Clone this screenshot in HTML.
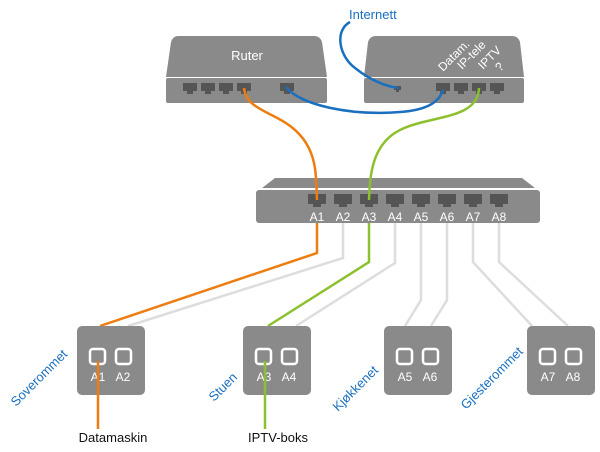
<!DOCTYPE html>
<html><head><style>body{margin:0;background:#fff}svg{display:block;font-family:"Liberation Sans",sans-serif}</style></head><body>
<svg width="600" height="452" viewBox="0 0 600 452">
<!-- router -->
<path d="M178,36 H314 Q320,36 322,42 L327,77 H166 L171,42 Q173,36 178,36Z" fill="#8a8a8a"/>
<rect x="166" y="78" width="161" height="25" rx="2" fill="#8a8a8a"/>
<text x="247" y="60" fill="#fff" font-size="13" text-anchor="middle">Ruter</text>
<g fill="#555"><path d="M183,83h14v8h-4v3h-6v-3h-4z"/><path d="M201,83h14v8h-4v3h-6v-3h-4z"/><path d="M219,83h14v8h-4v3h-6v-3h-4z"/><path d="M237,83h14v8h-4v3h-6v-3h-4z"/><path d="M280,83h14v8h-4v3h-6v-3h-4z"/></g>
<!-- modem -->
<path d="M376,36 H512 Q518,36 520,42 L524,77 H364 L368,42 Q370,36 376,36Z" fill="#8a8a8a"/>
<rect x="364" y="78" width="160" height="25" rx="2" fill="#8a8a8a"/>
<g fill="#555"><path d="M394,86h7v4h-2v2h-3v-2h-2z"/><path d="M436,83h14v8h-4v3h-6v-3h-4z"/><path d="M454,83h14v8h-4v3h-6v-3h-4z"/><path d="M472,83h14v8h-4v3h-6v-3h-4z"/><path d="M490,83h14v8h-4v3h-6v-3h-4z"/></g>
<g fill="#fff" font-size="12"><text transform="translate(443,72) rotate(-45)">Datam.</text><text transform="translate(462,70) rotate(-45)">IP-tele</text><text transform="translate(483,70) rotate(-45)">IPTV</text><text transform="translate(500,72) rotate(-45)">?</text></g>
<text x="349" y="19" fill="#1a6fbf" font-size="13">Internett</text>
<!-- switch -->
<path d="M275,178 H522 L535,188 H262Z" fill="#8a8a8a"/>
<rect x="256" y="190" width="284" height="33" rx="3" fill="#8a8a8a"/>
<g fill="#555">
<path d="M308,194h18v10h-5v3h-8v-3h-5z"/><path d="M334,194h18v10h-5v3h-8v-3h-5z"/><path d="M360,194h18v10h-5v3h-8v-3h-5z"/><path d="M386,194h18v10h-5v3h-8v-3h-5z"/><path d="M412,194h18v10h-5v3h-8v-3h-5z"/><path d="M438,194h18v10h-5v3h-8v-3h-5z"/><path d="M464,194h18v10h-5v3h-8v-3h-5z"/><path d="M490,194h18v10h-5v3h-8v-3h-5z"/></g>
<g fill="#fff" font-size="12" text-anchor="middle"><text x="317" y="221">A1</text><text x="343" y="221">A2</text><text x="369" y="221">A3</text><text x="395" y="221">A4</text><text x="421" y="221">A5</text><text x="447" y="221">A6</text><text x="473" y="221">A7</text><text x="499" y="221">A8</text></g>
<!-- cables -->
<g fill="none" stroke-width="2.5">
<g stroke="#ddd"><path d="M343,223V258L128,326"/><path d="M395,223V263L296,326"/><path d="M421,223V300L405,326"/><path d="M447,223V300L431,326"/><path d="M473,223V262L532,326"/><path d="M499,223V262L568,326"/></g>
<path stroke="#ee7d11" d="M317,223V253L100,326"/>
<path stroke="#8cc02e" d="M369,223V262L268,326"/>
<path stroke="#ee7d11" d="M244,88C246,112 280,112 300,135C318,155 316,180 317,200"/>
<path stroke="#8cc02e" d="M479,88C478,120 430,115 400,130C370,145 370,180 369,200"/>
<path stroke="#1a6fbf" d="M286,87C300,105 350,116 400,112C430,110 440,100 443,90"/>
<path stroke="#1a6fbf" d="M350,22C335,30 338,55 355,68C370,80 385,86 398,88"/>
</g>
<!-- wall boxes -->
<g fill="#8a8a8a"><rect x="77" y="326" width="68" height="69" rx="5"/><rect x="243" y="326" width="68" height="69" rx="5"/><rect x="384" y="326" width="68" height="69" rx="5"/><rect x="527" y="326" width="68" height="69" rx="5"/></g>
<g fill="none" stroke="#fff" stroke-width="2.5">
<rect x="90" y="349" width="15" height="15" rx="3"/><rect x="116" y="349" width="15" height="15" rx="3"/>
<rect x="256" y="349" width="15" height="15" rx="3"/><rect x="282" y="349" width="15" height="15" rx="3"/>
<rect x="397" y="349" width="15" height="15" rx="3"/><rect x="423" y="349" width="15" height="15" rx="3"/>
<rect x="540" y="349" width="15" height="15" rx="3"/><rect x="566" y="349" width="15" height="15" rx="3"/></g>
<g fill="#fff" font-size="12" text-anchor="middle"><text x="98" y="381">A1</text><text x="123" y="381">A2</text><text x="264" y="381">A3</text><text x="289" y="381">A4</text><text x="405" y="381">A5</text><text x="430" y="381">A6</text><text x="548" y="381">A7</text><text x="573" y="381">A8</text></g>
<g fill="none" stroke-width="2.5"><path stroke="#ee7d11" d="M98,361V429"/><path stroke="#8cc02e" d="M265,361V429"/></g>
<g fill="#1a6fbf" font-size="13"><text transform="translate(16,407) rotate(-45)">Soverommet</text><text transform="translate(214,402) rotate(-45)">Stuen</text><text transform="translate(338,412) rotate(-45)">Kjøkkenet</text><text transform="translate(466,410) rotate(-45)">Gjesterommet</text></g>
<g fill="#111" font-size="13" text-anchor="middle"><text x="113" y="442">Datamaskin</text><text x="278" y="442">IPTV-boks</text></g>
</svg>
</body></html>
